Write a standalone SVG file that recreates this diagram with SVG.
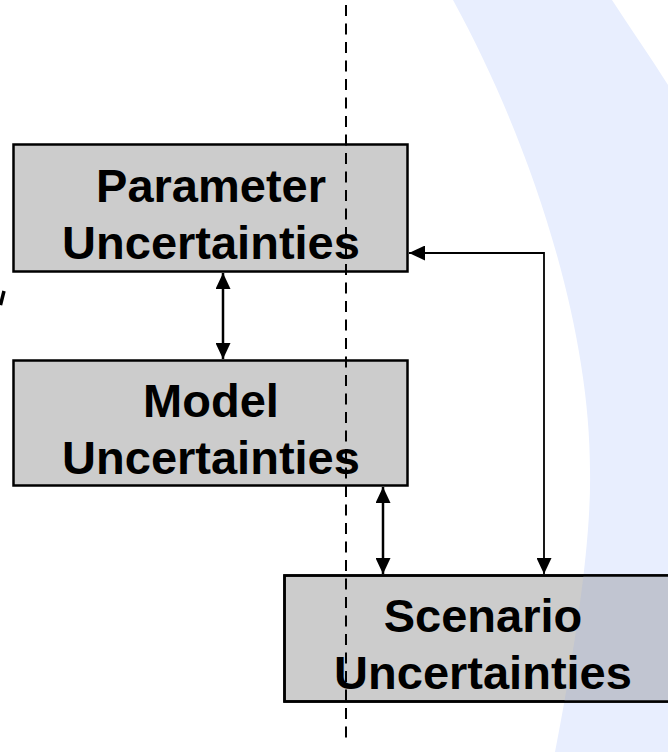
<svg xmlns="http://www.w3.org/2000/svg" width="668" height="752" viewBox="0 0 668 752">
  <style>
    .box { fill: #CCCCCC; stroke: #000000; stroke-width: 2.5; }
    .label { font-family: "Liberation Sans", Arial, sans-serif; font-weight: bold; font-size: 47px; fill: #000000; text-anchor: middle; }
    .conn { fill: none; stroke: #000000; }
    .thick { stroke-width: 2.5; }
    .thin { stroke-width: 1.8; }
    .divider { fill: none; stroke: #000000; stroke-width: 2; stroke-dasharray: 11 7.5; }
  </style>
  <defs>
    <path id="swoosh" d="M453,0 L612,0 C630,28 650,56 668,85 L668,752 L555,752 Q592,560 590,470 C590,330 535,150 453,0 Z"/>
    <clipPath id="scenClip">
      <rect x="284" y="575" width="400" height="127"/>
    </clipPath>
    <marker id="arrow" viewBox="0 0 16 15" refX="16" refY="7.5" markerWidth="16" markerHeight="15" markerUnits="userSpaceOnUse" orient="auto-start-reverse">
      <path d="M0,0 L16,7.5 L0,15 Z" fill="#000000"/>
    </marker>
  </defs>

  <rect x="0" y="0" width="668" height="752" fill="#FFFFFF"/>

  <g id="background">
    <use href="#swoosh" fill="#E8EEFE"/>
    <line x1="4" y1="291" x2="0.5" y2="305" stroke="#000000" stroke-width="3.5"/>
  </g>

  <g id="node-parameter">
    <rect class="box" x="13.5" y="144.5" width="394" height="127"/>
    <text class="label" x="211" y="202">Parameter</text>
    <text class="label" x="211" y="259">Uncertainties</text>
  </g>

  <g id="node-model">
    <rect class="box" x="13.5" y="360.5" width="394" height="125"/>
    <text class="label" x="211" y="417">Model</text>
    <text class="label" x="211" y="474">Uncertainties</text>
  </g>

  <g id="node-scenario">
    <rect class="box" x="284.5" y="575.5" width="400" height="126"/>
    <use href="#swoosh" fill="#C1C5D1" clip-path="url(#scenClip)"/>
    <rect x="284.5" y="575.5" width="400" height="126" fill="none" stroke="#000000" stroke-width="2.5"/>
    <text class="label" x="483" y="632">Scenario</text>
    <text class="label" x="483" y="689">Uncertainties</text>
  </g>

  <g id="connectors">
    <line class="conn thick" x1="223" y1="273" x2="223" y2="359" marker-start="url(#arrow)" marker-end="url(#arrow)"/>
    <line class="conn thick" x1="383" y1="487" x2="383" y2="574" marker-start="url(#arrow)" marker-end="url(#arrow)"/>
    <polyline class="conn thin" points="409,253 544,253 544,574" marker-start="url(#arrow)" marker-end="url(#arrow)"/>
  </g>

  <g id="divider">
    <line class="divider" x1="346" y1="5" x2="346" y2="745"/>
  </g>
</svg>
